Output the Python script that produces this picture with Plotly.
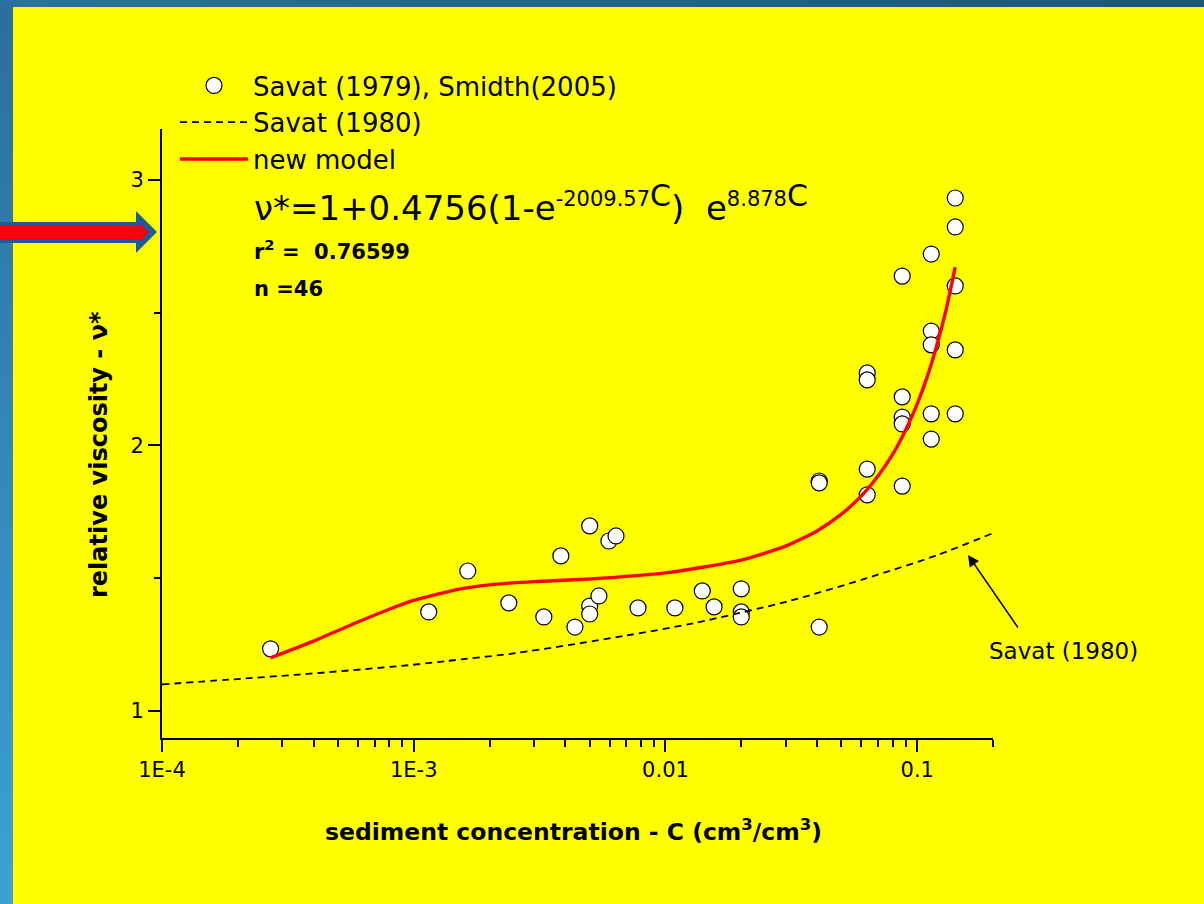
import plotly.graph_objects as go

# ---------------- data ----------------
obs_c = [2.70e-4, 1.147e-3, 1.639e-3, 2.386e-3, 3.287e-3, 3.841e-3, 4.368e-3,
         5.0e-3, 5.0e-3, 5.0e-3, 5.44e-3, 5.96e-3, 6.36e-3, 7.78e-3, 0.0109,
         0.0140, 0.0156, 0.0200, 0.0200, 0.0200, 0.0408, 0.0408, 0.0408,
         0.0633, 0.0633, 0.0633, 0.0633, 0.0872, 0.0872, 0.0872, 0.0872, 0.0872,
         0.1137, 0.1137, 0.1137, 0.1137, 0.1137, 0.1416, 0.1416, 0.1416, 0.1416, 0.1416]
obs_v = [1.234, 1.373, 1.527, 1.407, 1.354, 1.584, 1.316,
         1.697, 1.395, 1.365, 1.433, 1.640, 1.659, 1.388, 1.388,
         1.452, 1.392, 1.460, 1.373, 1.354, 1.866, 1.859, 1.316,
         2.273, 2.247, 1.911, 1.814, 2.638, 2.183, 2.107, 2.081, 1.847,
         2.721, 2.431, 2.379, 2.119, 2.024, 2.932, 2.823, 2.601, 2.360, 2.119]

savat80_c = [1e-4, 1.85e-4, 3.5e-4, 9.5e-4, 1.35e-3, 2.55e-3, 6.8e-3, 0.013,
             0.031, 0.063, 0.121, 0.2]
savat80_v = [1.100, 1.118, 1.137, 1.172, 1.188, 1.218, 1.282, 1.331,
             1.414, 1.500, 1.588, 1.670]

model_c = [2.7e-4, 4e-4, 6e-4, 8e-4, 1e-3, 1.5e-3, 2e-3, 3e-3, 5e-3, 0.01,
           0.02, 0.03, 0.04, 0.05, 0.06, 0.07, 0.08, 0.09, 0.10, 0.11, 0.12,
           0.13, 0.1416]
model_v = [1.200, 1.263, 1.335, 1.383, 1.416, 1.458, 1.475, 1.487, 1.497, 1.520,
           1.568, 1.621, 1.678, 1.741, 1.810, 1.886, 1.967, 2.058, 2.156, 2.263,
           2.381, 2.508, 2.672]

x_tickvals = [1e-4, 1e-3, 1e-2, 1e-1]
x_ticktext = ["1E-4", "1E-3", "0.01", "0.1"]
x_minor = [m * d for d in (1e-4, 1e-3, 1e-2) for m in range(2, 10)] + [0.2]
y_tickvals = [1, 2, 3]
y_minor = [1.5, 2.5]

# ---------------- layout geometry ----------------
W, H = 1204, 904
L, R, T, B = 162, 993, 129, 738
FONT = "DejaVu Sans, Liberation Sans, Arial, sans-serif"


def fx(px):
    return (px - L) / (R - L)


def fy(py):
    return (B - py) / (B - T)


fig = go.Figure()
fig.add_trace(go.Scatter(
    x=obs_c, y=obs_v, mode="markers", name="Savat (1979), Smidth(2005)",
    marker=dict(symbol="circle", size=16, color="white",
                line=dict(color="black", width=1.2)),
    cliponaxis=False))
fig.add_trace(go.Scatter(
    x=savat80_c, y=savat80_v, mode="lines", name="Savat (1980)",
    line=dict(color="black", width=1.8, dash="7px,5px", shape="spline", smoothing=0.8)))
fig.add_trace(go.Scatter(
    x=model_c, y=model_v, mode="lines", name="new model",
    line=dict(color="#ff0000", width=3.4, shape="spline", smoothing=0.6)))

shapes = []


def lerp(c1, c2, t):
    return "rgb(%d,%d,%d)" % tuple(round(a + (b - a) * t) for a, b in zip(c1, c2))


# blue frame (page background decoration), bands overlap to avoid seams
nb = 24
for i in range(nb):
    y0 = i * H / nb
    y1 = (i + 1) * H / nb + 2
    shapes.append(dict(type="rect", xref="paper", yref="paper",
                       x0=fx(0), x1=fx(13), y0=fy(y1), y1=fy(y0),
                       fillcolor=lerp((43, 111, 158), (60, 160, 215), i / (nb - 1)),
                       line=dict(width=0), layer="below"))
for i in range(nb):
    x0 = i * W / nb
    x1 = (i + 1) * W / nb + 2
    shapes.append(dict(type="rect", xref="paper", yref="paper",
                       x0=fx(x0), x1=fx(x1), y0=fy(7), y1=fy(0),
                       fillcolor=lerp((43, 112, 158), (26, 86, 128), i / (nb - 1)),
                       line=dict(width=0), layer="below"))


# decorative arrow at the left
def path(points):
    return "M" + " L".join("%f,%f" % (fx(x), fy(y)) for x, y in points) + " Z"


shapes.append(dict(type="path", xref="paper", yref="paper",
                   path=path([(0, 222), (136, 222), (136, 211), (157, 232),
                              (136, 253), (136, 243), (0, 243)]),
                   fillcolor="#1f5a9a", line=dict(width=0)))
shapes.append(dict(type="path", xref="paper", yref="paper",
                   path=path([(0, 226), (140, 226), (140, 224), (149, 232),
                              (140, 241), (140, 239), (0, 239)]),
                   fillcolor="#ff0000", line=dict(width=0)))

eq = ("ν*=1+0.4756(1-e<sup><span style='font-size:21px'>-2009.57</span></sup>"
      "<sup><span style='font-size:30px'>C</span></sup>)  "
      "e<sup><span style='font-size:21px'>8.878</span></sup>"
      "<sup><span style='font-size:30px'>C</span></sup>")

annotations = [
    dict(x=fx(252), y=fy(203), xref="paper", yref="paper", xanchor="left", yanchor="middle",
         text=eq, showarrow=False, font=dict(family=FONT, size=34, color="black")),
    dict(x=fx(252), y=fy(250), xref="paper", yref="paper", xanchor="left", yanchor="middle",
         text="<b>r<sup>2</sup> =  0.76599</b>", showarrow=False,
         font=dict(family=FONT, size=21, color="black")),
    dict(x=fx(252), y=fy(289), xref="paper", yref="paper", xanchor="left", yanchor="middle",
         text="<b>n =46</b>", showarrow=False,
         font=dict(family=FONT, size=21, color="black")),
    dict(x=fx(573), y=fy(830), xref="paper", yref="paper", xanchor="center", yanchor="middle",
         text="<b>sediment concentration - C (cm<sup>3</sup>/cm<sup>3</sup>)</b>", showarrow=False,
         font=dict(family=FONT, size=23.5, color="black")),
    dict(x=fx(99), y=fy(455), xref="paper", yref="paper", xanchor="center", yanchor="middle",
         text="<b>relative viscosity - ν*</b>", textangle=-90, showarrow=False,
         font=dict(family=FONT, size=24, color="black")),
    # callout arrow
    dict(x=fx(968), y=fy(555), xref="paper", yref="paper", ax=51, ay=74,
         axref="pixel", ayref="pixel", text="", showarrow=True, arrowhead=2,
         arrowsize=1.4, arrowwidth=1.6, arrowcolor="black"),
    dict(x=fx(1063), y=fy(651), xref="paper", yref="paper", xanchor="center", yanchor="middle",
         text="Savat (1980)", showarrow=False,
         font=dict(family=FONT, size=23, color="black")),
]

fig.update_layout(
    width=W, height=H, autosize=False,
    margin=dict(l=L, r=W - R, t=T, b=H - B, pad=0),
    paper_bgcolor="#ffff00", plot_bgcolor="#ffff00",
    font=dict(family=FONT, color="black"),
    showlegend=True,
    legend=dict(x=fx(175), y=fy(62), xanchor="left", yanchor="top",
                bgcolor="rgba(0,0,0,0)", borderwidth=0,
                font=dict(family=FONT, size=26, color="black"),
                itemwidth=68, tracegroupgap=0),
    shapes=shapes,
    annotations=annotations,
    xaxis=dict(type="log", range=[-4, -0.69897], showgrid=False, zeroline=False,
               showline=True, linecolor="black", linewidth=2, mirror=False,
               tickmode="array", tickvals=x_tickvals, ticktext=x_ticktext,
               ticks="outside", ticklen=12, tickwidth=2, tickcolor="black",
               tickfont=dict(family=FONT, size=21, color="black"),
               minor=dict(tickmode="array", tickvals=x_minor, ticks="outside",
                          ticklen=7, tickwidth=2, tickcolor="black", showgrid=False)),
    yaxis=dict(range=[0.898, 3.192], showgrid=False, zeroline=False,
               showline=True, linecolor="black", linewidth=2, mirror=False,
               tickmode="array", tickvals=y_tickvals,
               ticks="outside", ticklen=12, tickwidth=2, tickcolor="black",
               tickfont=dict(family=FONT, size=21, color="black"),
               minor=dict(tickmode="array", tickvals=y_minor, ticks="outside",
                          ticklen=6, tickwidth=2, tickcolor="black", showgrid=False)),
)

fig.write_html("out.html")
